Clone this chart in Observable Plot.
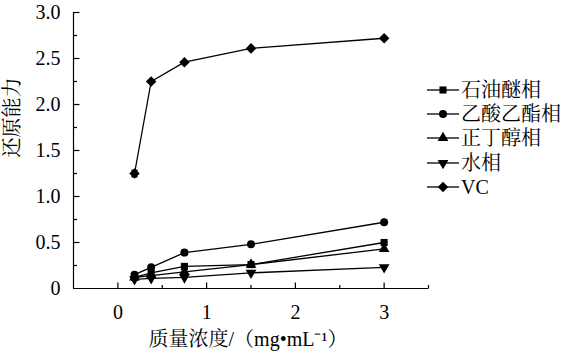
<!DOCTYPE html>
<html><head><meta charset="utf-8">
<script src="https://cdn.jsdelivr.net/npm/d3@7"></script>
<script src="https://cdn.jsdelivr.net/npm/@observablehq/plot@0.6"></script>
<style>
body{margin:0;background:#fff;}
#wrap{position:relative;width:572px;height:358px;font-family:'Liberation Serif','Noto Serif CJK SC',serif;}
#legend{position:absolute;left:427px;top:78px;font-family:'Liberation Serif','Noto Serif CJK SC',serif;}
.row{display:flex;align-items:center;height:24.2px;font-size:20px;line-height:20px;color:#000;}
.row svg{margin-right:2px;}
</style></head>
<body><div id="wrap"><div id="legend"></div></div>
<script>
const conc = [0.1875, 0.375, 0.75, 1.5, 3];
const seriesNames = ["石油醚相", "乙酸乙酯相", "正丁醇相", "水相", "VC"];
const petroleumEther = [0.12, 0.17, 0.24, 0.26, 0.50];
const ethylAcetate = [0.15, 0.23, 0.39, 0.48, 0.72];
const butanol = [0.12, 0.14, 0.18, 0.26, 0.43];
const water = [0.10, 0.11, 0.12, 0.17, 0.23];
const vc = [1.25, 2.25, 2.46, 2.61, 2.72];
const vcErr = [0.035, 0, 0, 0, 0];
const xMajorTicks = [0, 1, 2, 3];
const xMinorTicks = [0.5, 1.5, 2.5, 3.5];
const yMajorTicks = [0.5, 1, 1.5, 2, 2.5, 3];
const yMinorTicks = [0.25, 0.75, 1.25, 1.75, 2.25, 2.75];
const xLabels = [0, 1, 2, 3];
const yLabels = [0, 0.5, 1, 1.5, 2, 2.5, 3];

const FONT = "'Liberation Serif','Noto Serif CJK SC',serif";
const sqrt3 = Math.sqrt(3);
const downTriangle = {draw(ctx, size){const y = -Math.sqrt(size/(sqrt3*3)); ctx.moveTo(0,-y*2); ctx.lineTo(-sqrt3*y, y); ctx.lineTo(sqrt3*y, y); ctx.closePath();}};
const diamondSym = {draw(ctx, size){const r = Math.sqrt(size/2)*1.05; ctx.moveTo(0,-r); ctx.lineTo(r,0); ctx.lineTo(0,r); ctx.lineTo(-r,0); ctx.closePath();}};
const capSym = {draw(ctx){ctx.moveTo(-3,0); ctx.lineTo(3,0);}};
const tickUp = len => ({draw(ctx){ctx.moveTo(0,0); ctx.lineTo(0,-len);}});
const tickRight = len => ({draw(ctx){ctx.moveTo(0,0); ctx.lineTo(len,0);}});
const symbols = ["square", "circle", "triangle", downTriangle, diamondSym];
const values = [petroleumEther, ethylAcetate, butanol, water, vc];

const data = [];
values.forEach((vals, i) => vals.forEach((v, j) => data.push({series: seriesNames[i], x: conc[j], y: v, err: i === 4 ? vcErr[j] : 0, sym: i})));
const errData = data.filter(d => d.err > 0);

const marks = [
  Plot.ruleY([0], {stroke: "#000", strokeWidth: 1.2}),
  Plot.ruleX([-0.5], {stroke: "#000", strokeWidth: 1.2}),
  Plot.dot(xMajorTicks, {x: d => d, y: 0, symbol: () => tickUp(6), stroke: "#000", strokeWidth: 1.2, r: 3}),
  Plot.dot(xMinorTicks, {x: d => d, y: 0, symbol: () => tickUp(3.5), stroke: "#000", strokeWidth: 1.2, r: 3}),
  Plot.dot(yMajorTicks, {x: -0.5, y: d => d, symbol: () => tickRight(6), stroke: "#000", strokeWidth: 1.2, r: 3}),
  Plot.dot(yMinorTicks, {x: -0.5, y: d => d, symbol: () => tickRight(3.5), stroke: "#000", strokeWidth: 1.2, r: 3}),
  Plot.axisX({ticks: xLabels, tickSize: 0, tickPadding: 16, tickFormat: d => String(d), fontSize: 20, fill: "#000", label: null, fontFamily: FONT}),
  Plot.axisY({ticks: yLabels, tickSize: 0, tickPadding: 13, tickFormat: d => d === 0 ? "0" : d.toFixed(1), fontSize: 20, fill: "#000", label: null, fontFamily: FONT}),
  Plot.ruleX(errData, {x: "x", y1: d => d.y - d.err, y2: d => d.y + d.err, stroke: "#000", strokeWidth: 1.2}),
  Plot.dot(errData, {x: "x", y: d => d.y + d.err, symbol: () => capSym, stroke: "#000", r: 3}),
  Plot.dot(errData, {x: "x", y: d => d.y - d.err, symbol: () => capSym, stroke: "#000", r: 3}),
  Plot.line(data, {x: "x", y: "y", z: "series", stroke: "#000", strokeWidth: 1.3}),
  ...symbols.map((s, i) => Plot.dot(data.filter(d => d.sym === i), {x: "x", y: "y", symbol: () => s, fill: "#000", stroke: "none", r: 4})),
  Plot.text(["还原能力"], {frameAnchor: "left", rotate: -90, dx: -61, dy: 7, fontSize: 20, fill: "#000", fontFamily: FONT}),
  Plot.text(["质量浓度/（mg•mL⁻¹）"], {frameAnchor: "bottom", dy: 57, dx: -3, fontSize: 20, fill: "#000", fontFamily: FONT})
];

const chart = Plot.plot({
  width: 572, height: 358,
  marginLeft: 73, marginRight: 144, marginTop: 12, marginBottom: 70,
  x: {domain: [-0.5, 3.5], axis: null},
  y: {domain: [0, 3], axis: null},
  symbol: {type: "identity"},
  style: {fontFamily: FONT, fontSize: "20px", background: "#fff", color: "#000", overflow: "visible"},
  marks
});
document.getElementById("wrap").prepend(chart);

const legend = document.getElementById("legend");
seriesNames.forEach((name, i) => {
  const row = document.createElement("div");
  row.className = "row";
  const svg = d3.create("svg").attr("width", 32).attr("height", 14);
  svg.append("line").attr("x1", 0).attr("x2", 32).attr("y1", 7).attr("y2", 7).attr("stroke", "#000").attr("stroke-width", 1.3);
  const s = symbols[i];
  const symObj = typeof s === "string" ? {square: d3.symbolSquare, circle: d3.symbolCircle, triangle: d3.symbolTriangle}[s] : s;
  svg.append("path").attr("transform", "translate(16,7)").attr("d", d3.symbol(symObj, Math.PI * 16)()).attr("fill", "#000");
  row.appendChild(svg.node());
  const t = document.createElement("span");
  t.textContent = name;
  row.appendChild(t);
  legend.appendChild(row);
});
</script></body></html>
